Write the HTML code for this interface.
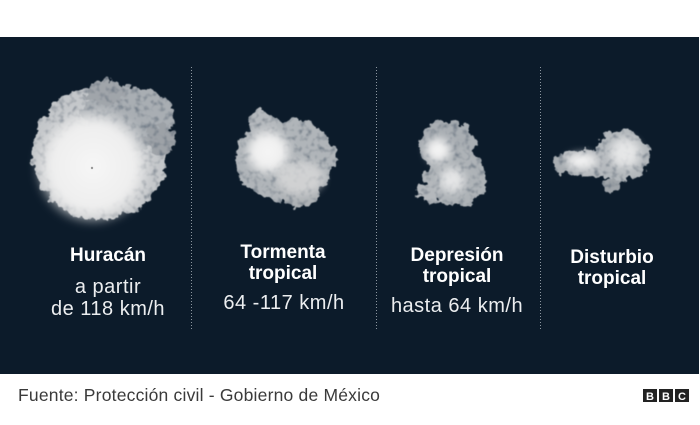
<!DOCTYPE html>
<html><head><meta charset="utf-8"><style>
html,body{margin:0;padding:0;background:#fff;}
svg{display:block;}
.t{font-family:"Liberation Sans",sans-serif;font-weight:bold;font-size:19px;fill:#fff;text-anchor:middle;}
.s{font-family:"Liberation Sans",sans-serif;font-size:20px;fill:#eceef0;text-anchor:middle;letter-spacing:0.5px;}
</style></head><body>
<svg width="700" height="425" viewBox="0 0 700 425" xmlns="http://www.w3.org/2000/svg">
<defs>
<filter id="cl" x="-30%" y="-30%" width="160%" height="160%">
 <feTurbulence type="fractalNoise" baseFrequency="0.11" numOctaves="3" seed="3" result="n"/>
 <feDisplacementMap in="SourceGraphic" in2="n" scale="14" xChannelSelector="R" yChannelSelector="G" result="d"/>
 <feTurbulence type="fractalNoise" baseFrequency="0.17" numOctaves="2" seed="8" result="n2"/>
 <feColorMatrix in="n2" type="matrix" values="0 0 0 0 0.08 0 0 0 0 0.12 0 0 0 0 0.17 2.0 0 0 0 -0.95" result="dk"/>
 <feComposite in="dk" in2="d" operator="atop" result="c"/>
 <feGaussianBlur in="c" stdDeviation="0.6"/>
</filter>
<filter id="bl" x="-40%" y="-40%" width="180%" height="180%">
 <feGaussianBlur stdDeviation="4"/>
</filter>
<radialGradient id="core">
 <stop offset="0" stop-color="#f6f6f6"/>
 <stop offset="0.72" stop-color="#eeeeee"/>
 <stop offset="1" stop-color="#e4e4e4" stop-opacity="0"/>
</radialGradient>
</defs>
<rect x="0" y="0" width="700" height="425" fill="#fff"/>
<rect x="0" y="37" width="699" height="337" fill="#0c1b2a"/>

<!-- dividers -->
<g stroke="#8c969f" stroke-width="1" stroke-dasharray="1 2">
 <line x1="191.5" y1="67" x2="191.5" y2="331"/>
 <line x1="376.5" y1="67" x2="376.5" y2="331"/>
 <line x1="540.5" y1="67" x2="540.5" y2="331"/>
</g>

<!-- Hurricane -->
<g filter="url(#cl)">
 <ellipse cx="100" cy="153" rx="67" ry="67" fill="#c4c7ca"/>
 <ellipse cx="128" cy="118" rx="46" ry="32" fill="#a9aeb3"/>
 <ellipse cx="105" cy="92" rx="20" ry="12" fill="#a0a5aa"/>
 <ellipse cx="160" cy="140" rx="15" ry="16" fill="#9da2a7"/>
</g>
<circle cx="93" cy="166" r="60" fill="url(#core)" filter="url(#bl)"/>
<circle cx="92" cy="168" r="1.2" fill="#999"/>

<!-- Tormenta tropical -->
<g filter="url(#cl)">
 <ellipse cx="286" cy="160" rx="50" ry="41" fill="#b0b5b9"/>
 <ellipse cx="262" cy="122" rx="13" ry="12" fill="#b5b9bd"/>
 <ellipse cx="300" cy="192" rx="20" ry="15" fill="#aeb2b6"/>
</g>
<circle cx="268" cy="152" r="24" fill="url(#core)" filter="url(#bl)"/>
<ellipse cx="300" cy="178" rx="24" ry="17" fill="#dcdcdc" opacity="0.75" filter="url(#bl)"/>

<!-- Depresion tropical -->
<g filter="url(#cl)">
 <ellipse cx="447" cy="146" rx="28" ry="25" fill="#a9aeb3"/>
 <ellipse cx="456" cy="178" rx="30" ry="28" fill="#aeb3b7"/>
 <ellipse cx="430" cy="192" rx="13" ry="11" fill="#b4b8bc"/>
</g>
<circle cx="438" cy="150" r="14" fill="url(#core)" filter="url(#bl)"/>
<circle cx="452" cy="180" r="15" fill="url(#core)" opacity="0.8" filter="url(#bl)"/>

<!-- Disturbio tropical -->
<g filter="url(#cl)">
 <ellipse cx="622" cy="156" rx="27" ry="26" fill="#b3b8bc"/>
 <ellipse cx="585" cy="163" rx="30" ry="13" fill="#b5b9bd"/>
 <ellipse cx="562" cy="164" rx="9" ry="9" fill="#a9aeb2"/>
 <ellipse cx="612" cy="185" rx="8" ry="8" fill="#9fa4a9"/>
</g>
<ellipse cx="582" cy="161" rx="18" ry="9" fill="url(#core)" filter="url(#bl)"/>
<circle cx="625" cy="153" r="18" fill="url(#core)" opacity="0.8" filter="url(#bl)"/>

<!-- Labels -->
<text class="t" x="108" y="261">Huracán</text>
<text class="s" x="108" y="293">a partir</text>
<text class="s" x="108" y="315">de 118 km/h</text>

<text class="t" x="283" y="258">Tormenta</text>
<text class="t" x="283" y="279">tropical</text>
<text class="s" x="284" y="309">64 -117 km/h</text>

<text class="t" x="457" y="261">Depresión</text>
<text class="t" x="457" y="282">tropical</text>
<text class="s" x="457" y="312">hasta 64 km/h</text>

<text class="t" x="612" y="263">Disturbio</text>
<text class="t" x="612" y="284">tropical</text>

<!-- Footer -->
<text x="18" y="401" font-family="Liberation Sans, sans-serif" font-size="17.5" letter-spacing="0.2" fill="#3a3a3a">Fuente: Protección civil - Gobierno de México</text>
<g>
 <rect x="643" y="389" width="14" height="13" fill="#222"/>
 <rect x="659" y="389" width="14" height="13" fill="#222"/>
 <rect x="675" y="389" width="14" height="13" fill="#222"/>
 <g font-family="Liberation Sans, sans-serif" font-weight="bold" font-size="11" fill="#fff" text-anchor="middle">
  <text x="650" y="400">B</text>
  <text x="666" y="400">B</text>
  <text x="682" y="400">C</text>
 </g>
</g>
</svg>
</body></html>
